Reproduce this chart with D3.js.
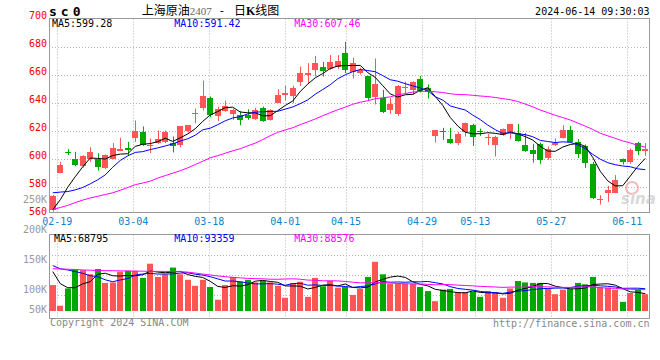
<!DOCTYPE html>
<html><head><meta charset="utf-8">
<script src="https://cdn.jsdelivr.net/npm/d3@7"></script>
<style>html,body{margin:0;padding:0;background:#fff;}svg{display:block;}</style>
</head><body><svg id="c" width="660" height="360"></svg>
<script>
// ---------- data ----------
const opens = [563.5,590,605,600,594.8,599.5,600,592.9,600,605.7,
 607.6,614.8,619,608.6,611.4,611.9,611.4,610,619.5,632,
 636.2,642.9,630.5,633.8,631.9,631.4,631,628.1,636.2,627.6,
 640,645.7,644.8,654.3,660,663.3,665.7,663.8,665.2,675.7,
 661.9,661,658.6,643.8,642.9,634.8,631.9,650.6,648.6,657.1,
 650,616.2,619.3,613.8,611.4,619,623.8,619.3,614.3,610,
 616.7,618.6,618.1,610,606.2,610.5,600.5,609.5,614.8,620.5,
 611.9,608.6,596.2,570.7,575.2,575.2,599.5,597.6,611,605.2];
const highs = [574,597.6,606.7,604.8,602.4,608.1,603.8,603,611,614.8,
 611.9,627.1,622.9,614.3,620,620,615.7,623.3,624,635.7,
 655.7,644.3,637.1,641.4,635.7,633.8,635.2,636.2,637.1,635.2,
 649.5,651.9,651.9,665.7,668.1,673.3,669,673.8,673.8,683.3,
 671.9,664.8,659,671.4,649,643.3,652.4,654.8,655.2,659,
 652.9,620.5,621.9,621.9,619,625.7,624.8,621.4,617.6,616.2,
 621.4,624.8,624.8,618.1,610.5,611.4,608.6,614.3,623.8,623.3,
 613.8,610,597.6,573.8,580.5,588.1,600,607.1,611.9,611];
const lows = [562,589.5,602.4,594.5,593.5,597.6,591.4,592.4,599.5,605.2,
 602.4,611.9,609,603.8,610.5,611,604.3,608.1,618.6,625.2,
 634.3,629.5,626.7,633.3,627.6,623.8,627.6,627.6,626.2,627.1,
 640,641.4,639.5,651.9,653.8,658.6,658.6,663.3,663.8,661,
 657.1,660,641.9,638.6,632.4,631.9,630.5,646.7,645.7,647.1,
 642.9,611.4,613.3,610.5,609.5,615.7,609,616.2,609.5,601.4,
 616.2,613.8,612,604.8,597.1,596.2,599,609,614.3,611.4,
 600.5,593.3,571,567.1,569,575.2,595.7,596.2,602.4,601.9];
const closes = [573.5,595.2,604.6,595.2,601.9,604.8,593.8,602.4,607.6,607.1,
 606.2,620,610,610,613.8,618.6,608.6,622.9,623.8,632.6,
 644.8,631.4,635.2,637.6,634.3,627.6,628.6,634.8,627.1,634.8,
 645.7,647.1,650.5,661.4,661,668.1,662.4,668.6,670,662.9,
 668.1,662.9,642.9,652.9,633.3,638.6,651.9,651,654.3,648.1,
 647.6,620.5,619,611.4,617.6,625.2,615.2,619,615.2,615.2,
 621,624.3,612.4,605.2,602.9,599,607.1,611.4,620.5,611.9,
 602.9,596.7,571.9,571,577.6,584.8,597.6,606.2,605.2,606.7];
// volume, thousand lots
const volumes = [108,22,94,172,170,153,175,117,119,164,
 167,167,138,197,142,153,181,153,130,105,
 130,100,47,108,142,122,130,119,125,119,
 105,55,117,122,59,138,103,125,97,100,
 67,92,142,205,153,114,114,114,114,100,
 83,41,89,92,78,78,81,59,83,78,
 55,94,125,119,117,117,94,70,89,92,
 117,111,142,100,97,89,38,75,89,70];
// moving-average values before enough days are in the window
const ma5Warm = [563.5,570.5,579.5,587];
const ma10Warm = [575.5,576,576.4,577.6,579.3,581.9,584.8,588.3,593.8];
const ma30Warm = [563.5,565,566.5,568.5,570.3,571.8,573,574.3,575.5,577.3,
 579.3,581.3,582.5,583.8,586,587.8,589.5,591.3,593.3,595.7,
 598,600.5,602,603.8,605.5,607,609,611,613.5];
const volMa5Warm = [164,114,97,97];
const volMa10Warm = [189,176,171,164,157,147,143,130,122];
const volMa30Warm = [176,175,174,173,171,170,169,168,168,167,
 167,166,166,165,165,165,164,164,162,158,
 154,150,146,143,140,138,136,135,134];
const priceTicks = [700,680,660,640,620,600,580,560];
const priceGrid = [680,660,640,620,600,580];
const dateLabels = ["02-19","03-04","03-18","04-01","04-15","04-29","05-13","05-27","06-11"];
const dateIdx = [1,11,21,31,39,49,56,66,76];
const volTicks = [250,200,150,100,50];
const priceLegend = ["MA5:599.28","MA10:591.42","MA30:607.46"];
const volLegend = ["MA5:68795","MA10:93359","MA30:88576"];

// ---------- layout ----------
const svg = d3.select("#c");
const N = closes.length;
const L = 49, R = 649;
const pTop = 18.5, pBot = 212.5;
const vTop = 234.5, vBot = 318.5;
const RED = "#ff5555", GREEN = "#00a800";
const MONO = "'DejaVu Sans Mono', monospace";

const x = d3.scaleBand().domain(d3.range(N)).range([L, R]).padding(0);
const cx = i => x(i) + x.bandwidth()/2;
const gx = d3.scaleLinear().domain([0, 76]).range([49.7, 627.3]); // label/grid positions
const y = d3.scaleLinear().domain([560, 700]).range([214.5, 18.5]);
const yv = d3.scaleLinear().domain([0, 320.8]).range([311, 234]);
const yvLab = d3.scaleLinear().domain([100, 250]).range([293.3, 203.3]);

function movingAvg(vals, n, warm) {
  return vals.map((v, i) => i < n - 1 ? warm[i] : d3.mean(vals.slice(i - n + 1, i + 1)));
}
const ma5 = movingAvg(closes, 5, ma5Warm);
const ma10 = movingAvg(closes, 10, ma10Warm);
const ma30 = movingAvg(closes, 30, ma30Warm);
const vma5 = movingAvg(volumes, 5, volMa5Warm);
const vma10 = movingAvg(volumes, 10, volMa10Warm);
const vma30 = movingAvg(volumes, 30, volMa30Warm);

const defs = svg.append("defs");
defs.append("clipPath").attr("id","cp").append("rect").attr("x",L).attr("y",pTop).attr("width",R-L+1).attr("height",pBot-pTop);
defs.append("clipPath").attr("id","cv").append("rect").attr("x",L).attr("y",vTop).attr("width",R-L+1).attr("height",vBot-vTop);

// grid
const grid = svg.append("g").attr("stroke","#b4b4b4").attr("stroke-dasharray","1,2").attr("stroke-width",1);
priceGrid.forEach(v => grid.append("line").attr("x1",L).attr("x2",R).attr("y1",Math.round(y(v))+0.5).attr("y2",Math.round(y(v))+0.5));
dateIdx.forEach(i => {
  const gxp = Math.round(gx(i)) + 0.5;
  grid.append("line").attr("x1",gxp).attr("x2",gxp).attr("y1",pTop).attr("y2",pBot);
  grid.append("line").attr("x1",gxp).attr("x2",gxp).attr("y1",vTop).attr("y2",vBot);
});
[255.5, 275.5, 295.5].forEach(yy => grid.append("line").attr("x1",L).attr("x2",R).attr("y1",yy).attr("y2",yy));

// candles
const cg = svg.append("g").attr("clip-path","url(#cp)");
d3.range(N).forEach(i => {
  const up = closes[i] >= opens[i];
  const col = up ? RED : GREEN;
  const bx = Math.round(cx(i) - 3);
  const wx = bx + 3.5;
  cg.append("line").attr("x1",wx).attr("x2",wx).attr("y1",y(highs[i])).attr("y2",y(lows[i])).attr("stroke",col).attr("stroke-width",1);
  const t = y(Math.max(opens[i], closes[i])), b = y(Math.min(opens[i], closes[i]));
  cg.append("rect").attr("x",bx).attr("width",6).attr("y",Math.round(t)).attr("height",Math.max(1, Math.round(b) - Math.round(t))).attr("fill",col);
});

// price MA lines
const lineP = d3.line().x((d,i) => cx(i)).y(d => y(d));
[[ma5,"#000"],[ma10,"#0000ff"],[ma30,"#ff00ff"]].forEach(([arr,c]) => {
  svg.append("path").attr("clip-path","url(#cp)").attr("d",lineP(arr)).attr("fill","none").attr("stroke",c).attr("stroke-width",1);
});

// volume bars
const vg = svg.append("g").attr("clip-path","url(#cv)");
d3.range(N).forEach(i => {
  const up = closes[i] >= opens[i];
  const bx = Math.round(cx(i) - 3);
  vg.append("rect").attr("x",bx).attr("width",6).attr("y",yv(volumes[i])).attr("height",yv(0)-yv(volumes[i])).attr("fill", up ? RED : GREEN);
});
const lineV = d3.line().x((d,i) => cx(i)).y(d => yv(d));
[[vma5,"#000"],[vma10,"#0000ff"],[vma30,"#ff00ff"]].forEach(([arr,c]) => {
  svg.append("path").attr("clip-path","url(#cv)").attr("d",lineV(arr)).attr("fill","none").attr("stroke",c).attr("stroke-width",1);
});

// frames
svg.append("rect").attr("x",L+0.5).attr("y",pTop).attr("width",R-L).attr("height",pBot-pTop).attr("fill","none").attr("stroke","#999");
svg.append("rect").attr("x",L+0.5).attr("y",vTop).attr("width",R-L).attr("height",vBot-vTop).attr("fill","none").attr("stroke","#999");

// watermark
const wm = svg.append("g").attr("opacity",0.55);
wm.append("circle").attr("cx",632).attr("cy",188).attr("r",6).attr("fill","none").attr("stroke","#f08080").attr("stroke-width",2);
wm.append("text").attr("x",621).attr("y",204).attr("font-family","'DejaVu Sans', sans-serif").attr("font-size",15).attr("font-style","italic").attr("font-weight","bold").attr("fill","#bbb").text("sina");

// axis labels
const tx = svg.append("g").attr("font-family",MONO).attr("font-size",10);
priceTicks.forEach(v => tx.append("text").attr("x",47).attr("y",y(v)).attr("text-anchor","end").attr("fill","#ee0000").text(v));
tx.append("text").attr("x",47).attr("y",203.3).attr("text-anchor","end").attr("fill","#999").text("250K");
volTicks.slice(1).forEach(v => tx.append("text").attr("x",47).attr("y",Math.min(313.3, yvLab(v))).attr("text-anchor","end").attr("fill","#999").text(v + "K"));
dateLabels.forEach((s,k) => tx.append("text").attr("x",gx(dateIdx[k])).attr("y",225).attr("text-anchor","middle").attr("fill","#0a84d0").text(s));

// legends
const legX = [52, 174.3, 294.3];
const legC = ["#000","#0000ff","#ff00ff"];
priceLegend.forEach((s,k) => tx.append("text").attr("x",legX[k]).attr("y",27).attr("fill",legC[k]).text(s));
volLegend.forEach((s,k) => tx.append("text").attr("x",legX[k] + (k===0?2:0)).attr("y",242).attr("fill",legC[k]).text(s));

// header
svg.append("text").attr("x",49).attr("y",15.5).attr("font-family",MONO).attr("font-size",13).attr("font-weight","bold").attr("letter-spacing",4).attr("fill","#000").text("sc0");
const title = svg.append("text").attr("x",141.7).attr("y",15).attr("font-family","'Noto Sans CJK SC', sans-serif").attr("font-size",12).attr("fill","#000");
title.append("tspan").text("上海原油");
title.append("tspan").attr("font-family","'Liberation Serif', serif").attr("font-size",11).attr("fill","#666").text("2407");
title.append("tspan").attr("dx",8).text("-");
title.append("tspan").attr("dx",10).text("日");
title.append("tspan").attr("font-weight","bold").attr("font-family","'Liberation Serif', serif").text("K");
title.append("tspan").text("线图");
svg.append("text").attr("x",649.5).attr("y",15).attr("text-anchor","end").attr("font-family",MONO).attr("font-size",10).attr("fill","#000").text("2024-06-14 09:30:03");
svg.append("text").attr("x",50).attr("y",326).attr("font-family",MONO).attr("font-size",10).attr("fill","#888").text("Copyright 2024 SINA.COM");
svg.append("text").attr("x",649.5).attr("y",327).attr("text-anchor","end").attr("font-family",MONO).attr("font-size",10).attr("fill","#888").text("http://finance.sina.com.cn");
</script>
</body></html>
